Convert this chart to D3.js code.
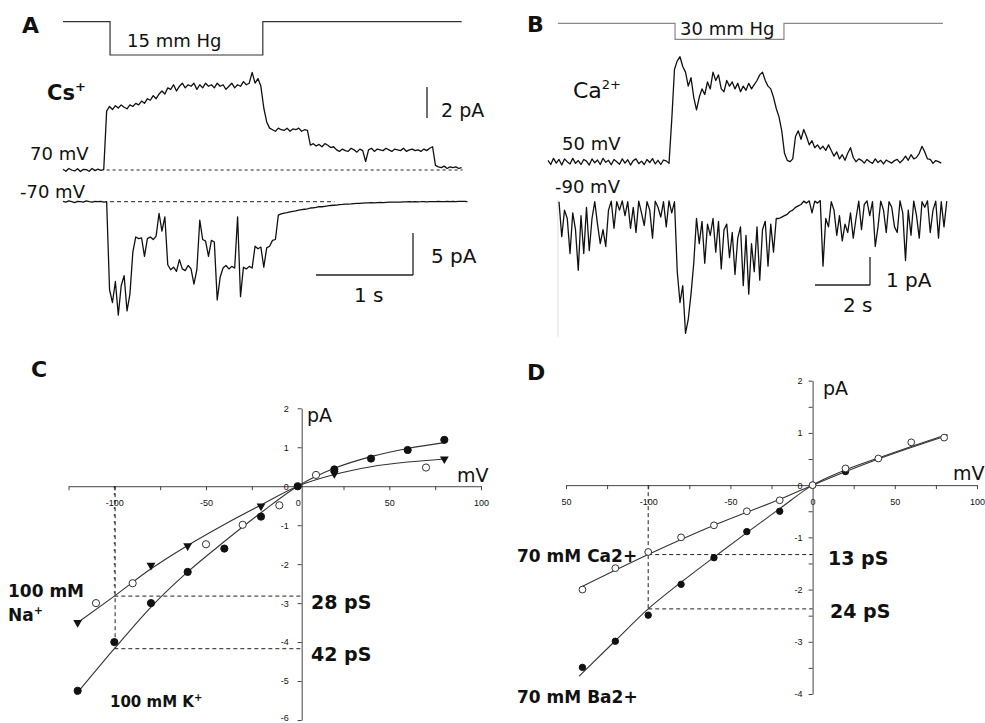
<!DOCTYPE html>
<html>
<head>
<meta charset="utf-8">
<script src="https://cdn.jsdelivr.net/npm/d3@7"></script>
<style>
body { margin: 0; background: #fff; }
text { font-family: "DejaVu Sans", sans-serif; fill: #111; }
</style>
</head>
<body>
<div id="vis"></div>
<script>
var w = 985;
var h = 723;

// ---- data ----
// A: pressure protocol (s, mm Hg) and single channel currents (pA), sampled every dtA s
var pressA = [[0, 0], [0.485, -15], [2.06, 0], [4.11, 0]];
var dtA = 0.03;
var csTrace = [0.05,-0.08,0.1,0,-0.06,0.08,-0.1,0.04,0.02,-0.08,0.1,-0.04,0.06,-0.02,0.03,
  3.8,
  4.1,3.9,4.15,4.0,4.2,4.05,3.95,4.2,4.1,4.3,4.2,
  4.45,4.3,4.6,4.5,4.8,4.6,4.9,
  5.1,4.9,5.3,5.2,5.5,5.1,5.4,5.6,5.3,5.5,
  5.4,5.6,5.2,5.5,5.3,5.6,5.4,5.5,5.3,5.6,5.4,5.5,5.2,5.4,5.6,5.3,5.5,5.4,5.7,5.5,5.6,
  6.3,5.6,5.9,5.4,4.0,3.1,
  2.7,2.6,2.5,2.7,2.6,2.55,2.7,2.5,2.65,2.6,2.7,2.5,2.6,2.55,
  1.6,1.7,1.55,1.65,1.5,1.7,1.6,1.45,1.5,
  1.3,1.2,1.35,1.25,1.2,1.4,1.3,1.15,1.35,1.25,0.55,1.3,1.4,1.2,1.35,1.3,1.25,1.4,1.3,1.2,1.35,1.3,1.25,1.4,1.2,1.3,1.35,1.25,1.3,1.2,1.35,1.25,1.4,
  1.5,0.3,
  0.2,0.15,0.25,0.1,0.2,0.15,0.2,0.1,0.15];
var csNegTrace = [0.05,-0.05,0.1,0,-0.1,0.05,0,-0.05,0.1,0,-0.05,0.05,0,0.05,-0.05,0,
  -10.5,-12,-9.5,-13.5,-10,-8.8,-13,-11,
  -6,-4.2,-4.4,-4.3,-6.5,-4.4,-4.2,-4.5,-4.1,
  -1.4,-3.5,-1.8,-7.5,
  -8.1,-7.8,-8.3,-6.9,-8,-8.2,-7.6,-8,-9.8,-8.1,
  -2.2,-4.5,-4.7,-6.5,-4.6,-4.8,
  -11.7,-9,-7.9,-7.6,-8,-7.7,-7.9,
  -1.8,-11.3,-7.8,-8,-7.7,-7.9,
  -5.3,-5.6,-5.4,-7.8,-5.5,-5.3,-4.6,-4.5,-1.6,
  -1.45,-1.35,-1.3,-1.2,-1.15,-1.1,-1.0,
  -0.95,-0.9,-0.85,-0.75,-0.72,-0.68,-0.6,
  -0.6,-0.55,-0.5,-0.45,-0.42,-0.4,-0.35,
  -0.33,-0.3,-0.28,-0.26,-0.22,-0.2,-0.2,-0.17,-0.15,
  -0.14,-0.12,-0.13,-0.1,-0.08,-0.1,-0.07,-0.05,-0.06,-0.04,-0.05,
  -0.04,-0.02,-0.03,0,-0.02,0.01,-0.01,0,0.02,-0.01,0.01,0.02,0,0.03,0.01,0.02,0.04,0.01,0.03,0.02,0.05,0.03,0.04,0.02];

// B: pressure protocol and currents, sampled every dtB s
var pressB = [[0.36, 0], [4.62, -30], [8.58, 0], [14.36, 0]];
var dtB = 0.1;
var caStart = 0;
var caTrace = [0.05,-0.1,0.12,-0.05,0.08,-0.12,0.1,0,-0.08,0.12,-0.06,0.04,-0.1,0.08,0.02,-0.12,0.1,-0.04,0.06,-0.1,0.12,-0.02,0.05,-0.11,0.08,0,-0.09,0.1,-0.05,0.07,-0.12,0.04,0.1,-0.07,0.02,-0.1,0.08,-0.03,0.11,-0.08,0.05,-0.1,0.06,0.03,-0.06,
  1.5,3.3,3.6,3.75,3.4,3.2,2.7,3.0,2.3,1.85,2.3,2.6,2.4,2.85,2.6,3.2,2.9,3.1,2.6,2.5,2.9,2.7,2.85,2.6,2.8,2.5,2.7,2.55,2.8,2.6,2.75,2.9,3.1,3.2,2.9,2.7,2.6,2.3,1.9,1.6,1.1,0.3,0.05,0,0.1,0.9,1.1,0.8,1.15,0.9,0.6,0.75,0.5,0.6,0.45,0.55,0.4,0.6,0.4,0.2,0.35,0.1,0.25,0.05,0.3,0.5,0.15,0,0.1,
  0.05,-0.05,0.08,0,-0.06,0.1,-0.03,0.05,-0.08,0.06,0,-0.05,0.04,0.08,-0.04,0.06,0.2,0.05,0.25,0.1,0.15,0.3,0.55,0.35,0.1,0.08,-0.06,0.04,0,-0.05];
var caNegStart = 0.4;
var caNegTrace = [0,-1.25,-0.3,-0.6,-1.85,-0.4,-1.0,-2.45,-0.5,-1.85,-0.2,-1.75,-0.6,0,-0.8,-1.5,-1.0,-1.6,-0.3,0.02,-0.95,0,-0.3,0.03,-0.5,0,-0.95,-0.2,-1.1,0.02,-0.4,-0.85,0,-0.3,-1.3,0.02,-0.2,-0.55,0,-0.9,0.03,-0.4,0,
  -2.5,-3.6,-3.0,-4.7,-4.2,-3.3,-2.2,
  -0.6,-1.5,-0.7,-2.2,-0.8,-1.2,-0.6,-1.8,-0.7,-2.4,-1.0,-0.8,-2.0,-1.1,-2.6,-1.3,-0.9,-3.0,-1.2,-3.3,-1.5,-2.5,-0.9,-2.8,-1.0,-0.7,-2.3,-0.8,-1.8,-0.6,
  -0.6,-0.55,-0.5,-0.45,-0.35,-0.3,-0.2,-0.15,-0.1,
  0.02,-0.05,0.03,-0.4,0.02,-0.05,0.04,-2.3,-0.6,-0.9,0,-0.3,-1.2,-0.5,-1.4,-0.8,-1.1,-0.4,-1.3,-0.6,0.02,-1.0,-0.1,0.03,-0.5,0,-1.6,-0.9,0.02,-0.3,-1.1,0,-0.2,-0.9,-1.1,0.03,-0.4,-2.1,-0.3,-1.2,0.02,-0.5,-1.3,0,-0.2,0.03,-1.1,-0.3,0.02,-1.3,0,-0.9,0.02];

// C: I-V relations (mV, pA)
var kPts = [[-120,-5.25],[-100,-4.0],[-80,-3.0],[-60,-2.2],[-40,-1.6],[-20,-0.78],[0,0],[20,0.43],[40,0.71],[60,0.93],[80,1.19]];
var naTri = [[-120,-3.5],[-80,-2.03],[-60,-1.53],[-20,-0.51],[20,0.32],[80,0.7]];
var naOpen = [[-110,-3.0],[-90,-2.49],[-50,-1.49],[-30,-0.99],[-10,-0.49],[10,0.29],[70,0.48]];
var kFit = [[-121,-5.35],[-100,-4.17],[-80,-3.1],[-60,-2.2],[-40,-1.42],[-20,-0.68],[0,0],[20,0.46],[40,0.76],[60,0.97],[80,1.12]];
var naFit = [[-120,-3.5],[-100,-2.82],[-80,-2.12],[-60,-1.52],[-40,-0.98],[-20,-0.48],[0,0],[20,0.3],[40,0.5],[60,0.62],[80,0.7]];
var cGuides = [-2.82, -4.17];
var cXTicks = [-125,-100,-75,-50,-25,0,25,50,75,100];
var cXLabelVals = [-100,-50,0,50,100];
var cXLabelText = ["-100","-50","0","50","100"];
var cYTicks = [2,1,0,-1,-2,-3,-4,-5,-6];

// D: I-V relations (mV, pA)
var caPts = [[-140,-2.0],[-120,-1.59],[-100,-1.28],[-80,-1.0],[-60,-0.77],[-40,-0.5],[-20,-0.29],[0,0],[20,0.32],[40,0.51],[60,0.82],[80,0.91]];
var baPts = [[-140,-3.49],[-120,-2.99],[-100,-2.49],[-80,-1.9],[-60,-1.39],[-40,-0.89],[-20,-0.5],[0,0],[20,0.26]];
var caFit = [[-142,-1.97],[-100,-1.33],[-60,-0.77],[-20,-0.27],[0,0],[40,0.5],[82,0.95]];
var baFit = [[-142,-3.66],[-120,-2.98],[-100,-2.37],[-80,-1.86],[-60,-1.38],[-40,-0.91],[-20,-0.45],[0,0],[20,0.29],[40,0.52],[60,0.74],[82,0.97]];
var dGuides = [-1.33, -2.37];
var dXTicks = [-150,-125,-100,-75,-50,-25,0,25,50,75,100];
var dXLabelVals = [-150,-100,-50,0,50,100];
var dXLabelText = ["50","-100","-50","0","50","100"];
var dYTicks = [2,1.5,1,0.5,0,-0.5,-1,-1.5,-2,-2.5,-3,-3.5,-4];
var dYLabelVals = [2,1,0,-1,-2,-3,-4];

// ---- scales ----
var xA = d3.scaleLinear().domain([0, 1]).range([63, 160]);
var yPA = d3.scaleLinear().domain([-15, 0]).range([55, 21.7]);
var yCs = d3.scaleLinear().domain([0, 2]).range([170, 139]);
var yCsNeg = d3.scaleLinear().domain([0, 5]).range([201.7, 159.7]);
var xB = d3.scaleLinear().domain([0, 2]).range([548, 603]);
var yPB = d3.scaleLinear().domain([-30, 0]).range([39.3, 23.3]);
var yCa = d3.scaleLinear().domain([0, 1]).range([161.7, 133.7]);
var yCaNeg = d3.scaleLinear().domain([0, 1]).range([201.7, 173.7]);
var xC = d3.scaleLinear().domain([-125, 100]).range([68.5, 481]);
var yC = d3.scaleLinear().domain([-6, 2]).range([720, 408.3]);
var xD = d3.scaleLinear().domain([-150, 100]).range([566, 977]);
var yD = d3.scaleLinear().domain([-4, 2]).range([694, 380.7]);

var svg = d3.select("#vis")
    .append("svg")
    .attr("width", w)
    .attr("height", h);

svg.append("rect").attr("width", w).attr("height", h).attr("fill", "#fff");

function addText(str, x, y, size, bold, sup, supSize) {
	var t = svg.append("text")
		.attr("x", x)
		.attr("y", y)
		.style("font-size", size + "px")
		.style("font-weight", bold ? "bold" : "normal")
		.text(str);
	if (sup) {
		t.append("tspan")
			.attr("dy", -size * 0.42)
			.style("font-size", (supSize || size * 0.6) + "px")
			.text(sup);
	}
	return t;
}

function trace(vals, t0, dt, x, y) {
	svg.append("path")
		.datum(vals)
		.attr("d", d3.line()
			.x(function(d, i) { return x(t0 + i * dt); })
			.y(function(d) { return y(d); }))
		.attr("fill", "none")
		.attr("stroke", "#111")
		.attr("stroke-width", 1.3)
		.attr("stroke-linejoin", "round");
}

function press(pts, x, y, col) {
	svg.append("path")
		.datum(pts)
		.attr("d", d3.line().curve(d3.curveStepAfter)
			.x(function(d) { return x(d[0]); })
			.y(function(d) { return y(d[1]); }))
		.attr("fill", "none")
		.attr("stroke", col)
		.attr("stroke-width", 1.2);
}

function dashed(x1, y1, x2, y2, dash) {
	svg.append("line")
		.attr("x1", x1).attr("x2", x2)
		.attr("y1", y1).attr("y2", y2)
		.attr("stroke", "#222")
		.attr("stroke-width", 1)
		.attr("stroke-dasharray", dash || "4,3");
}

function bar(x1, y1, x2, y2) {
	svg.append("line")
		.attr("x1", x1).attr("x2", x2)
		.attr("y1", y1).attr("y2", y2)
		.attr("stroke", "#222")
		.attr("stroke-width", 1.3);
}

//Paneel A
press(pressA, xA, yPA, "#333");
dashed(xA(0.45), yCs(0), xA(4.12), yCs(0), "3,3");
dashed(xA(0.485), yCsNeg(0), xA(2.8), yCsNeg(0), "4,3");
trace(csTrace, 0, dtA, xA, yCs);
trace(csNegTrace, 0, dtA, xA, yCsNeg);

bar(427, 118, 427, 118 - (yCs(0) - yCs(2)));
bar(413, 275, 413, 275 - (yCsNeg(0) - yCsNeg(5)));
bar(413 - (xA(1) - xA(0)), 275, 413, 275);

addText("A", 22, 33, 22, true);
addText("15 mm Hg", 127, 47, 18, false);
addText("Cs", 47, 100, 21, true, "+", 13);
addText("2 pA", 441, 117, 19, false);
addText("70 mV", 30, 160, 18, false);
addText("-70 mV", 20, 198, 18, false);
addText("5 pA", 431, 263, 20, false);
addText("1 s", 354, 302, 20, false);

//Paneel B
press(pressB, xB, yPB, "#888");
svg.append("line")
	.attr("x1", xB(0.36)).attr("x2", xB(0.36))
	.attr("y1", 200).attr("y2", 337)
	.attr("stroke", "#e2e2e2");
trace(caTrace, caStart, dtB, xB, yCa);
trace(caNegTrace, caNegStart, dtB, xB, yCaNeg);

bar(870, 285, 870, 285 - (yCaNeg(0) - yCaNeg(1)));
bar(870 - (xB(2) - xB(0)), 285, 870, 285);

addText("B", 527, 32, 22, true);
addText("30 mm Hg", 680, 35, 18, false);
addText("Ca", 573, 98, 22, false, "2+", 13);
addText("50 mV", 562, 150, 18, false);
addText("-90 mV", 555, 193, 18, false);
addText("1 pA", 886, 287, 20, false);
addText("2 s", 843, 312, 20, false);

//Assen C en D
function drawAxes(x, y, xTicks, xLabelVals, xLabelText, yTicks, yLabelVals, yShift, yPad) {
	var gx = svg.append("g")
		.attr("transform", "translate(0," + y(0) + ")")
		.call(d3.axisBottom(x).tickValues(xTicks).tickSize(4).tickSizeOuter(0).tickPadding(9)
			.tickFormat(function(d) {
				var k = xLabelVals.indexOf(d);
				return k < 0 ? "" : xLabelText[k];
			}));
	var gy = svg.append("g")
		.attr("transform", "translate(" + (x(0) + yShift) + ",0)")
		.call(d3.axisLeft(y).tickValues(yTicks).tickSize(4).tickSizeOuter(0).tickPadding(yPad)
			.tickFormat(function(d) { return yLabelVals.indexOf(d) < 0 ? "" : String(d); }));
	[gx, gy].forEach(function(g) {
		g.attr("font-family", "'Liberation Sans', Arial, sans-serif").attr("font-size", 9);
		g.selectAll("path, line").attr("stroke", "#444");
		g.selectAll("text").style("font-family", "'Liberation Sans', Arial, sans-serif").attr("fill", "#333");
	});
	// lowest label kept inside the picture
	gy.selectAll(".tick text").filter(function(d) { return y(d) > h - 6; }).attr("dy", "0.1em");
}

function fit(pts, x, y) {
	svg.append("path")
		.datum(pts)
		.attr("d", d3.line().curve(d3.curveMonotoneX)
			.x(function(d) { return x(d[0]); })
			.y(function(d) { return y(d[1]); }))
		.attr("fill", "none")
		.attr("stroke", "#333")
		.attr("stroke-width", 1.1);
}

function dots(pts, x, y, r, open) {
	svg.append("g").selectAll("circle")
		.data(pts)
		.enter()
		.append("circle")
		.attr("cx", function(d) { return x(d[0]); })
		.attr("cy", function(d) { return y(d[1]); })
		.attr("r", r)
		.attr("fill", open ? "#fff" : "#111")
		.attr("stroke", open ? "#333" : "#111")
		.attr("stroke-width", 1);
}

//Paneel C
drawAxes(xC, yC, cXTicks, cXLabelVals, cXLabelText, cYTicks, cYTicks, 4, 9);
cGuides.forEach(function(g, i) {
	dashed(xC(-100), yC(g), xC(0) + 4, yC(g), "4,3");
	dashed(xC(-100) + i * 0.8, yC(0), xC(-100) + i * 0.8, yC(g), i ? "4,3" : "2,5");
});
fit(kFit, xC, yC);
fit(naFit, xC, yC);
dots(naOpen, xC, yC, 3.6, true);
dots(kPts, xC, yC, 3.6, false);
svg.append("g").selectAll("path")
	.data(naTri)
	.enter()
	.append("path")
	.attr("d", d3.symbol().type(d3.symbolTriangle).size(34))
	.attr("transform", function(d) { return "translate(" + xC(d[0]) + "," + yC(d[1]) + ") rotate(180)"; })
	.attr("fill", "#111");

addText("C", 31, 377, 22, true);
addText("pA", 307, 422, 19, false);
addText("mV", 457, 482, 19, false);
addText("100 mM", 8, 597, 17, true);
addText("Na", 8, 621, 17, true, "+", 11);
addText("28 pS", 311, 609, 19, true);
addText("42 pS", 311, 661, 19, true);
addText("100 mM K", 110, 707, 15, true, "+", 10);

//Paneel D
drawAxes(xD, yD, dXTicks, dXLabelVals, dXLabelText, dYTicks, dYLabelVals, 0, 6);
dGuides.forEach(function(g) {
	dashed(xD(-100), yD(g), xD(0), yD(g), "4,3");
});
dashed(xD(-100), yD(0), xD(-100), yD(dGuides[1]), "4,3");
fit(caFit, xD, yD);
fit(baFit, xD, yD);
dots(baPts, xD, yD, 3.2, false);
dots(caPts, xD, yD, 3.4, true);

addText("D", 527, 380, 22, true);
addText("pA", 823, 395, 19, false);
addText("mV", 953, 480, 19, false);
addText("70 mM Ca2+", 517, 562, 17, true);
addText("13 pS", 828, 565, 19, true);
addText("24 pS", 830, 618, 19, true);
addText("70 mM Ba2+", 517, 703, 17, true);
</script>
</body>
</html>
